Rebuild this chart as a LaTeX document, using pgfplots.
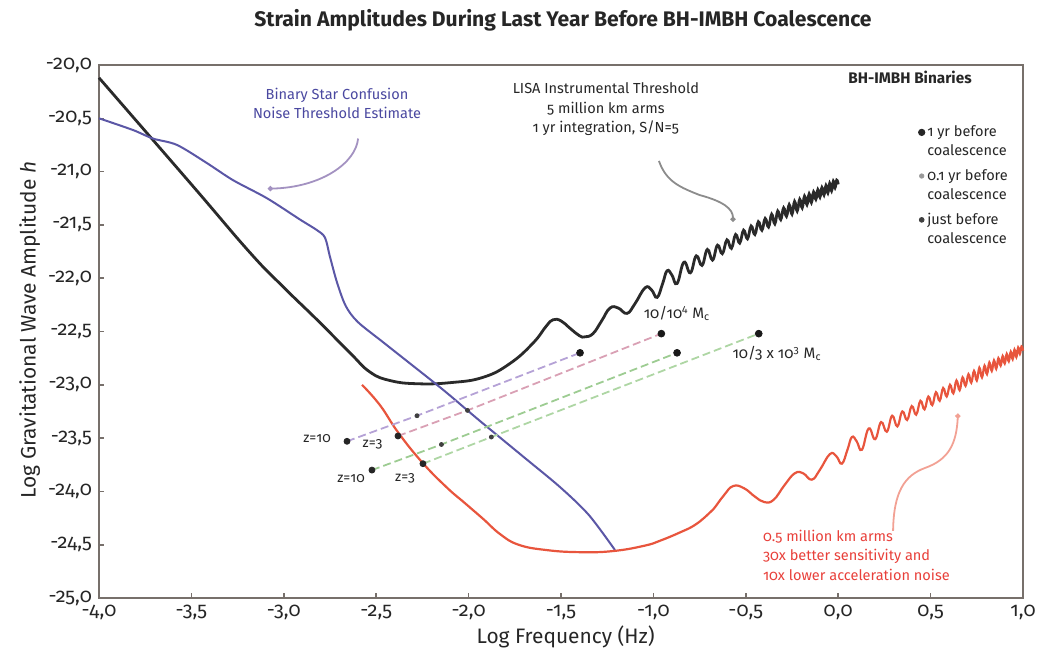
\documentclass[border=0pt]{standalone}
\usepackage{fontspec}
\setmainfont{Fira Sans}[Numbers=OldStyle]
\usepackage{pgfplots}
\pgfplotsset{compat=1.18}
\usetikzlibrary{arrows.meta}

\definecolor{frame}{HTML}{77706B}
\definecolor{lisa}{HTML}{2A2A2A}
\definecolor{confus}{HTML}{5B57A6}
\definecolor{newlisa}{HTML}{E8553D}
\definecolor{lav}{HTML}{B5A2D6}
\definecolor{pinkl}{HTML}{D9A0B4}
\definecolor{greena}{HTML}{9DCC92}
\definecolor{greenb}{HTML}{AED6A4}
\definecolor{bluetext}{HTML}{4A48A0}
\definecolor{redtext}{HTML}{E8403A}

\newcommand{\annfont}{\fontsize{7.3}{9.7}\selectfont}

\begin{document}
\begin{tikzpicture}
\useasboundingbox (0,0) rectangle (519.5bp,325bp);
\begin{axis}[
    at={(49.5bp,26bp)}, anchor=south west,
    scale only axis, width=462bp, height=266.5bp,
    xmin=-4, xmax=1, ymin=-25, ymax=-20,
    xtick={-4,-3.5,-3,-2.5,-2,-1.5,-1,-0.5,0,0.5,1},
    ytick={-25,-24.5,-24,-23.5,-23,-22.5,-22,-21.5,-21,-20.5,-20},
    tick pos=left, tick align=inside,
    major tick length=2.5bp,
    tick style={frame, line width=0.8bp},
    axis line style={frame, line width=1.2bp},
    /pgf/number format/.cd, fixed, fixed zerofill, precision=1, use comma, assume math mode=true,
    /pgfplots/.cd,
    ticklabel style={font=\fontsize{10}{12}\selectfont, text=black!85},
    xlabel={Log Frequency (Hz)},
    ylabel={Log Gravitational Wave Amplitude \textit{h}},
    label style={font=\fontsize{10.5}{12}\selectfont, text=black!85},
    xlabel style={at={(axis description cs:0.505,-0.073)}, anchor=center},
    ylabel style={at={(axis description cs:-0.075,0.503)}, anchor=center},
    clip=false,
    legend style={draw=none, fill=none, at={(axis cs:0.40,-20.515)}, anchor=north west,
        font=\annfont, cells={anchor=west, align=left}, row sep=4bp,
        nodes={inner xsep=1.2bp, inner ysep=0.6bp}, text=black!85},
    legend image code/.code={\path (0bp,-6.6bp);\draw[#1] plot coordinates {(0bp,4.85bp)};},
]

% LISA instrumental threshold (5 million km arms)
\addplot[forget plot, lisa, line width=1.4bp, smooth, tension=0.75] coordinates {
(-4.0,-20.12) (-3.5,-21.12) (-3.183,-21.76) (-3.004,-22.08) (-2.82,-22.39)
(-2.642,-22.70) (-2.534,-22.88) (-2.425,-22.96) (-2.28,-22.99) (-2.10,-22.98)
(-1.922,-22.93) (-1.776,-22.80) (-1.652,-22.61) (-1.58,-22.45) (-1.543,-22.39)
(-1.50,-22.40) (-1.451,-22.47) (-1.40,-22.54) (-1.37,-22.55) (-1.327,-22.52)
(-1.28,-22.40) (-1.235,-22.28) (-1.19,-22.28) (-1.143,-22.33) (-1.10,-22.24)
(-1.045,-22.09) (-1.01,-22.11) (-0.98,-22.18) (-0.95,-22.05) (-0.926,-21.93)
(-0.90,-21.97) (-0.872,-22.05)
(-0.835,-21.85) (-0.800,-21.95) (-0.768,-21.79) (-0.737,-21.88) (-0.708,-21.73)
(-0.680,-21.83) (-0.653,-21.69) (-0.627,-21.77) (-0.602,-21.64) (-0.578,-21.72)
(-0.555,-21.59) (-0.533,-21.67) (-0.512,-21.55) (-0.491,-21.63) (-0.471,-21.51)
(-0.451,-21.59) (-0.432,-21.47) (-0.413,-21.55) (-0.395,-21.44) (-0.377,-21.52)
(-0.360,-21.40) (-0.343,-21.49) (-0.327,-21.37) (-0.311,-21.45) (-0.295,-21.34)
(-0.280,-21.42) (-0.265,-21.31) (-0.250,-21.40) (-0.236,-21.28) (-0.222,-21.37)
(-0.208,-21.26) (-0.195,-21.34) (-0.182,-21.23) (-0.169,-21.31) (-0.157,-21.21)
(-0.145,-21.29) (-0.133,-21.19) (-0.121,-21.26) (-0.110,-21.17) (-0.099,-21.24)
(-0.088,-21.15) (-0.077,-21.22) (-0.066,-21.13) (-0.056,-21.20) (-0.046,-21.11)
(-0.036,-21.18) (-0.026,-21.09) (-0.017,-21.15) (-0.008,-21.08) (0.000,-21.12)
};

% binary star confusion noise
\addplot[forget plot, confus, line width=1bp, smooth, tension=0.5] coordinates {
(-4.0,-20.50) (-3.816,-20.61) (-3.708,-20.69) (-3.578,-20.75) (-3.416,-20.92)
(-3.275,-21.08) (-3.091,-21.25) (-2.912,-21.45) (-2.82,-21.55) (-2.777,-21.62)
(-2.75,-21.80) (-2.712,-22.04) (-2.665,-22.26) (-2.60,-22.41) (-2.463,-22.60)
(-2.317,-22.80) (-2.193,-22.97) (-2.101,-23.10) (-1.938,-23.34) (-1.70,-23.68)
(-1.505,-23.96) (-1.35,-24.22) (-1.208,-24.55)
};

% 0.5 million km arms
\addplot[forget plot, newlisa, line width=1.1bp, smooth, tension=0.75] coordinates {
(-2.577,-23.00) (-2.48,-23.19) (-2.38,-23.45) (-2.25,-23.73) (-2.12,-23.96)
(-2.02,-24.11) (-1.92,-24.26) (-1.83,-24.40) (-1.73,-24.50) (-1.58,-24.55)
(-1.40,-24.57) (-1.22,-24.56) (-1.05,-24.51) (-0.96,-24.46) (-0.85,-24.38)
(-0.78,-24.32) (-0.72,-24.24) (-0.677,-24.17) (-0.62,-24.04) (-0.569,-23.95)
(-0.51,-23.97) (-0.45,-24.05) (-0.40,-24.10) (-0.35,-24.08) (-0.29,-23.94)
(-0.235,-23.83) (-0.19,-23.83) (-0.143,-23.89) (-0.10,-23.80) (-0.045,-23.65)
(-0.01,-23.67) (0.02,-23.74) (0.05,-23.61) (0.074,-23.49) (0.10,-23.53)
(0.128,-23.61)
(0.165,-23.41) (0.200,-23.51) (0.232,-23.35) (0.263,-23.44) (0.292,-23.29)
(0.320,-23.39) (0.347,-23.25) (0.373,-23.33) (0.398,-23.20) (0.422,-23.28)
(0.445,-23.15) (0.467,-23.23) (0.488,-23.11) (0.509,-23.19) (0.529,-23.07)
(0.549,-23.15) (0.568,-23.03) (0.587,-23.11) (0.605,-23.00) (0.623,-23.08)
(0.640,-22.96) (0.657,-23.05) (0.673,-22.93) (0.689,-23.01) (0.705,-22.90)
(0.720,-22.98) (0.735,-22.87) (0.750,-22.96) (0.764,-22.84) (0.778,-22.93)
(0.792,-22.82) (0.805,-22.90) (0.818,-22.79) (0.831,-22.87) (0.843,-22.77)
(0.855,-22.85) (0.867,-22.75) (0.879,-22.82) (0.890,-22.73) (0.901,-22.80)
(0.912,-22.71) (0.923,-22.78) (0.934,-22.69) (0.944,-22.76) (0.954,-22.67)
(0.964,-22.74) (0.974,-22.65) (0.983,-22.71) (0.992,-22.64) (1.000,-22.68)
};

% BH-IMBH binary tracks
\addplot[forget plot, lav, line width=0.9bp, dash pattern=on 4bp off 2bp] coordinates {(-2.658,-23.53) (-2.279,-23.29) (-1.397,-22.70)};
\addplot[forget plot, pinkl, line width=0.9bp, dash pattern=on 4bp off 2bp] coordinates {(-2.382,-23.48) (-2.006,-23.24) (-0.957,-22.52)};
\addplot[forget plot, greena, line width=0.9bp, dash pattern=on 4bp off 2bp] coordinates {(-2.523,-23.80) (-2.147,-23.56) (-0.872,-22.70)};
\addplot[forget plot, greenb, line width=0.9bp, dash pattern=on 4bp off 2bp] coordinates {(-2.247,-23.74) (-1.877,-23.49) (-0.430,-22.52)};

% markers: 1 yr, 0.1 yr, just before coalescence
\addplot[forget plot, only marks, mark=*, mark size=1.5bp, black!85] coordinates {(-2.658,-23.53) (-2.382,-23.48) (-2.523,-23.80) (-2.247,-23.74)};
\addplot[forget plot, only marks, mark=*, mark size=1bp, black!75] coordinates {(-2.279,-23.29) (-2.006,-23.24) (-2.147,-23.56) (-1.877,-23.49)};
\addplot[forget plot, only marks, mark=*, mark size=1.7bp, black!90] coordinates {(-1.397,-22.70) (-0.957,-22.52) (-0.872,-22.70) (-0.430,-22.52)};

\addlegendimage{only marks, mark=*, mark size=1.6bp, black!85}
\addlegendentry{1 yr before\\coalescence}
\addlegendimage{only marks, mark=*, mark size=1.1bp, black!40}
\addlegendentry{0.1 yr before\\coalescence}
\addlegendimage{only marks, mark=*, mark size=1.2bp, black!75}
\addlegendentry{just before\\coalescence}

% annotations
\node[font=\annfont, text=bluetext, align=center] at (axis cs:-2.712,-20.36)
    {Binary Star Confusion\\Noise Threshold Estimate};
\draw[-{Circle[length=2.5bp]}, line width=0.9bp, color=lav!90!black]
    (axis cs:-2.598,-20.69) .. controls (axis cs:-2.61,-20.92) and (axis cs:-2.80,-21.15) .. (axis cs:-3.086,-21.16);

\node[font=\annfont, text=black!85, align=center] at (axis cs:-1.257,-20.415)
    {LISA Instrumental Threshold\\5 million km arms\\1 yr integration, S/N=5};
\draw[-{Circle[length=2.5bp]}, line width=0.9bp, color=black!45]
    (axis cs:-0.97,-20.90) .. controls (axis cs:-0.93,-21.10) and (axis cs:-0.85,-21.15) .. (axis cs:-0.75,-21.22)
    .. controls (axis cs:-0.62,-21.28) and (axis cs:-0.57,-21.35) .. (axis cs:-0.569,-21.47);

\node[font=\annfont, text=redtext, align=left, anchor=west] at (axis cs:-0.445,-24.60)
    {0.5 million km arms\\30x better sensitivity and\\10x lower acceleration noise};
\draw[-{Circle[length=2.5bp]}, line width=0.9bp, color=newlisa!55]
    (axis cs:0.297,-24.37) .. controls (axis cs:0.30,-24.00) and (axis cs:0.36,-23.85) .. (axis cs:0.47,-23.78)
    .. controls (axis cs:0.60,-23.70) and (axis cs:0.64,-23.55) .. (axis cs:0.648,-23.27);

\node[font=\bfseries\fontsize{7.7}{9}\selectfont, text=black!85] at (axis cs:0.389,-20.113) {BH-IMBH Binaries};

\node[font=\fontsize{7.6}{9}\selectfont, text=black!85, anchor=west] at (axis cs:-1.09,-22.33) {10/10\textsuperscript{4} M\textsubscript{c}};
\node[font=\fontsize{7.6}{9}\selectfont, text=black!85, anchor=west] at (axis cs:-0.61,-22.71) {10/3 x 10\textsuperscript{3} M\textsubscript{c}};

\node[font=\fontsize{7}{8}\selectfont, text=black!85] at (axis cs:-2.82,-23.50) {z=10};
\node[font=\fontsize{7}{8}\selectfont, text=black!85] at (axis cs:-2.52,-23.56) {z=3};
\node[font=\fontsize{7}{8}\selectfont, text=black!85] at (axis cs:-2.636,-23.88) {z=10};
\node[font=\fontsize{7}{8}\selectfont, text=black!85] at (axis cs:-2.344,-23.88) {z=3};
\end{axis}
\node[font=\bfseries\fontsize{10.6}{12}\selectfont, text=black!85] at (281.5bp,315bp)
    {Strain Amplitudes During Last Year Before BH-IMBH Coalescence};
\end{tikzpicture}
\end{document}
